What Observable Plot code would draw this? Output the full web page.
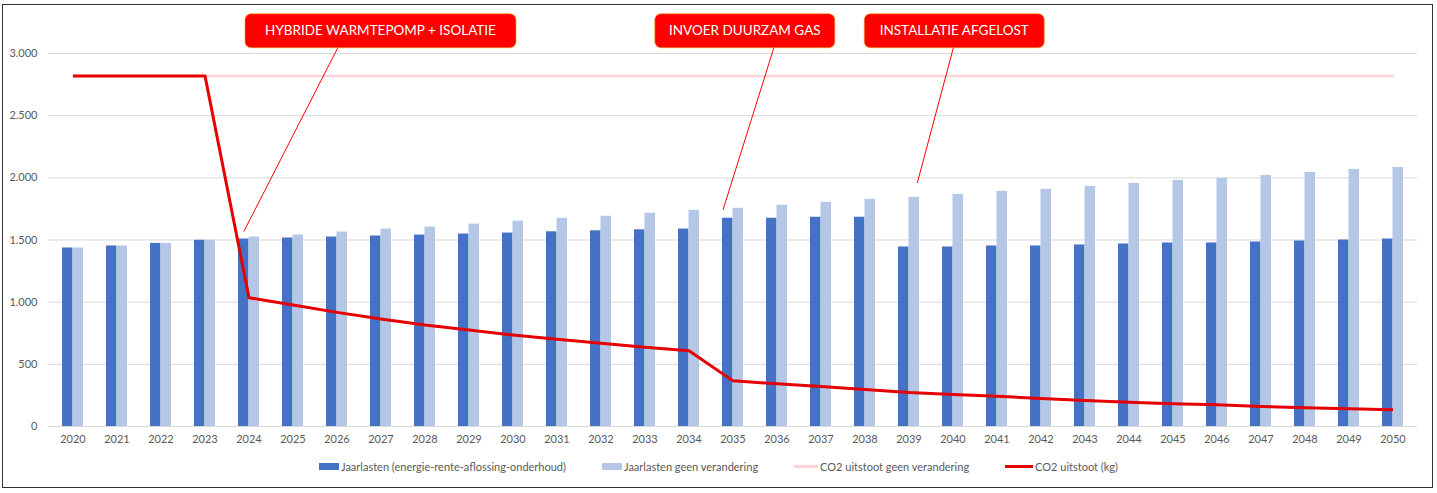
<!DOCTYPE html>
<html><head><meta charset="utf-8">
<script src="https://cdn.jsdelivr.net/npm/d3@7"></script>
<script src="https://cdn.jsdelivr.net/npm/@observablehq/plot@0.6"></script>
<style>
body{margin:0;background:#fff;font-family:Lato,sans-serif;}
#wrap{position:relative;width:1437px;height:493px;overflow:hidden;background:#fff;}
#frame{position:absolute;left:2px;top:4px;width:1431px;height:484px;border:1.5px solid #333;box-sizing:border-box;pointer-events:none;}
#chart{position:absolute;left:0;top:0;}
#legend{position:absolute;left:0;top:460px;width:1437px;display:flex;justify-content:center;align-items:center;font-family:Lato,sans-serif;font-size:11px;color:#595959;}
.item{display:flex;align-items:center;margin:0 18px;}
.sw{display:inline-block;margin-right:2px;}
</style></head>
<body>
<div id="wrap"><div id="chart"></div><div id="legend"></div><div id="frame"></div></div>
<script>
const years = ["2020","2021","2022","2023","2024","2025","2026","2027","2028","2029","2030","2031","2032","2033","2034","2035","2036","2037","2038","2039","2040","2041","2042","2043","2044","2045","2046","2047","2048","2049","2050"];
const jaarlasten = [1436,1452,1473,1498,1508,1516,1524,1532,1540,1548,1556,1566,1574,1582,1588,1675,1675,1683,1683,1444,1444,1452,1452,1460,1468,1476,1476,1484,1492,1500,1508];
const jaarlastenGeen = [1436,1452,1473,1498,1524,1540,1564,1588,1604,1628,1652,1675,1691,1715,1739,1755,1779,1803,1827,1843,1867,1891,1907,1931,1955,1979,1995,2019,2043,2067,2083];
const co2Geen = [2820,2820,2820,2820,2820,2820,2820,2820,2820,2820,2820,2820,2820,2820,2820,2820,2820,2820,2820,2820,2820,2820,2820,2820,2820,2820,2820,2820,2820,2820,2820];
const co2 = [2820,2820,2820,2820,1036,977,918,865,817,777,736,701,669,637,610,367,343,321,297,273,257,244,225,209,195,182,174,161,150,142,134];
const yTicks = [0,500,1000,1500,2000,2500,3000];
const seriesNames = ["Jaarlasten (energie-rente-aflossing-onderhoud)","Jaarlasten geen verandering","CO2 uitstoot geen verandering","CO2 uitstoot (kg)"];
// annotations: anchored in data units
const notes = [
  {label:"HYBRIDE WARMTEPOMP + ISOLATIE", boxYear:"2027", boxShift:0, boxValue:3179, startShift:-0.97, tipYear:"2024", tipShift:-0.106, tipValue:1564},
  {label:"INVOER DUURZAM GAS", boxYear:"2035", boxShift:0.28, boxValue:3179, startShift:0.66, tipYear:"2035", tipShift:-0.215, tipValue:1739},
  {label:"INSTALLATIE AFGELOST", boxYear:"2040", boxShift:0.04, boxValue:3179, startShift:-0.02, tipYear:"2039", tipShift:0.2, tipValue:1955}
];
const noteWidths = [271, 180, 180];

const colors = {dark:"#4472C4", light:"#B4C7E7", pink:"#ffd3d9", red:"#e60000"};
const nl = d3.formatLocale({decimal:",", thousands:".", grouping:[3], currency:["€",""]});
const fmt = nl.format(",d");

const data = years.map((year,i)=>({year, jaarlasten:jaarlasten[i], geen:jaarlastenGeen[i], co2:co2[i], co2Geen:co2Geen[i]}));

const plot = Plot.plot({
  width:1437, height:450, marginLeft:48, marginRight:20, marginTop:53, marginBottom:24,
  style:{fontFamily:"Lato, sans-serif", fontSize:"11px", color:"#595959", background:"transparent", overflow:"visible"},
  x:{type:"band", domain:years, paddingInner:0.524, paddingOuter:0.262, label:null},
  y:{domain:[0,3000], label:null},
  marks:[
    Plot.gridY({ticks:yTicks, stroke:"#d9d9d9", strokeOpacity:1}),
    Plot.barY(data,{x:"year", y:"jaarlasten", fill:colors.dark, insetRight:10.5}),
    Plot.barY(data,{x:"year", y:"geen", fill:colors.light, insetLeft:10.5}),
    Plot.line(data,{x:"year", y:"co2Geen", stroke:colors.pink, strokeWidth:2.5}),
    Plot.line(data,{x:"year", y:"co2", stroke:colors.red, strokeWidth:3, strokeLinecap:"butt"}),
    Plot.axisX({tickSize:0, tickPadding:9, fill:"#595959"}),
    Plot.axisY({ticks:yTicks, tickSize:0, tickPadding:11, tickFormat:fmt, fill:"#595959"})
  ]
});
document.getElementById("chart").appendChild(plot);

// annotations via Plot's scales
const xs = plot.scale("x"), ys = plot.scale("y");
const step = xs.step ?? (xs.apply("2021") - xs.apply("2020"));
const bw = xs.bandwidth;
const xc = (yr, shift) => xs.apply(yr) + bw/2 + shift*step;
const g = d3.select(plot).append("g").attr("font-family","Lato, sans-serif");
const boxH = 34;
notes.forEach((n,i)=>{
  const cx = xc(n.boxYear, n.boxShift), cy = ys.apply(n.boxValue);
  g.append("line")
    .attr("x1", xc(n.boxYear, n.boxShift + n.startShift)).attr("y1", cy + boxH/2)
    .attr("x2", xc(n.tipYear, n.tipShift)).attr("y2", ys.apply(n.tipValue))
    .attr("stroke","#ff0000").attr("stroke-width",1);
  g.append("rect").attr("x", cx - noteWidths[i]/2).attr("y", cy - boxH/2)
    .attr("width", noteWidths[i]).attr("height", boxH).attr("rx",6)
    .attr("fill","#ff0000").attr("stroke","#e8a000").attr("stroke-width",1).attr("stroke-opacity",0.6);
  g.append("text").attr("x", cx).attr("y", cy).attr("text-anchor","middle").attr("dy","0.35em")
    .attr("fill","#fff").attr("font-size","13.5px").text(n.label);
});

// legend
const leg = document.getElementById("legend");
const swatches = [
  `<span class="sw" style="width:20px;height:7px;background:${colors.dark}"></span>`,
  `<span class="sw" style="width:20px;height:7px;background:${colors.light}"></span>`,
  `<span class="sw" style="width:24px;height:3px;background:${colors.pink}"></span>`,
  `<span class="sw" style="width:28px;height:3.5px;background:${colors.red}"></span>`
];
seriesNames.forEach((name,i)=>{
  const d = document.createElement("div"); d.className="item";
  d.innerHTML = swatches[i] + `<span>${name}</span>`;
  leg.appendChild(d);
});
</script>
</body></html>
